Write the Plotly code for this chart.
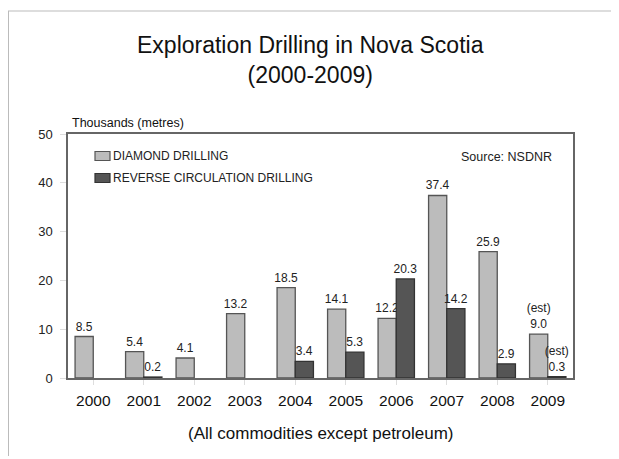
import plotly.graph_objects as go

years = ["2000", "2001", "2002", "2003", "2004", "2005", "2006", "2007", "2008", "2009"]
diamond = [8.5, 5.4, 4.1, 13.2, 18.5, 14.1, 12.2, 37.4, 25.9, 9.0]
reverse_circ = [None, 0.2, None, None, 3.4, 5.3, 20.3, 14.2, 2.9, 0.3]
estimated_years = ["2009"]
y_ticks = [0, 10, 20, 30, 40, 50]
series_names = ["DIAMOND DRILLING", "REVERSE CIRCULATION DRILLING"]
fills = ["#bcbcbc", "#555555"]
edges = ["#555555", "#333333"]


def labels(vals):
    out = []
    for y, v in zip(years, vals):
        if v is None:
            out.append("")
        elif y in estimated_years:
            out.append(f"(est)<br>{v:.1f}")
        else:
            out.append(f"{v:.1f}")
    return out


FONT = "Liberation Sans, Arial, Helvetica, sans-serif"

fig = go.Figure()
for name, vals, fc, ec in zip(series_names, [diamond, reverse_circ], fills, edges):
    fig.add_trace(go.Bar(
        name=name, x=years, y=vals,
        marker=dict(color=fc, line=dict(color=ec, width=1.3)),
        text=labels(vals), textposition="outside", constraintext="none",
        cliponaxis=False, textfont=dict(size=12, color="#222222", family=FONT),
    ))

# page offset (browser body margin)
OX, OY = 8, 8
W, H = 619 - OX, 459 - OY
L, R, T, B = 68 - OX, 46, 134 - OY, 81
pw, ph = W - L - R, H - T - B


def px(xp):
    return (xp - OX - L) / pw


def py(yp):
    return (H - B - (yp - OY)) / ph


legend_shapes = []
legend_annots = []
for i, (name, fc, ec) in enumerate(zip(series_names, fills, edges)):
    yc = 156 + 22 * i
    legend_shapes.append(dict(
        type="rect", xref="paper", yref="paper",
        x0=px(95), x1=px(110), y0=py(yc + 4.5), y1=py(yc - 4.5),
        fillcolor=fc, line=dict(color=ec, width=1.2)))
    legend_annots.append(dict(
        text=name, x=px(111), y=py(yc), xref="paper", yref="paper",
        xanchor="left", yanchor="middle", showarrow=False,
        font=dict(size=12, color="#222222")))

fig.update_layout(
    width=W, height=H,
    margin=dict(l=L, r=R, t=T, b=B),
    paper_bgcolor="white", plot_bgcolor="white",
    barmode="group", bargap=0.28, bargroupgap=0,
    font=dict(family=FONT, color="#222222"),
    showlegend=False,
    xaxis=dict(
        type="category", showline=True, linecolor="#666666", linewidth=1.5,
        mirror=True, ticks="outside", ticklen=5, tickcolor="#dddddd",
        tickfont=dict(size=15.5, color="#111111"), ticklabelstandoff=3,
        showgrid=False, zeroline=False,
    ),
    yaxis=dict(
        range=[0, 50], tickvals=y_ticks, showline=True, linecolor="#666666",
        linewidth=1.5, mirror=True, ticks="outside", ticklen=6,
        tickcolor="#dddddd", tickfont=dict(size=13, color="#222222"),
        ticklabelstandoff=5, showgrid=False, zeroline=False,
    ),
    annotations=[
        dict(text="Exploration Drilling in Nova Scotia<br>(2000-2009)",
             x=px(310), y=py(60), xref="paper", yref="paper",
             xanchor="center", yanchor="middle", showarrow=False,
             font=dict(size=23, color="#111111")),
        dict(text="Thousands (metres)", x=px(70), y=py(123), xref="paper",
             yref="paper", xanchor="left", yanchor="middle", showarrow=False,
             font=dict(size=12.5, color="#111111")),
        dict(text="Source: NSDNR", x=px(554), y=py(157), xref="paper",
             yref="paper", xanchor="right", yanchor="middle", showarrow=False,
             font=dict(size=12.5, color="#222222")),
        dict(text="(All commodities except petroleum)", x=px(320.5), y=py(433),
             xref="paper", yref="paper", xanchor="center", yanchor="middle",
             showarrow=False, font=dict(size=17, color="#111111")),
    ] + legend_annots,
    shapes=[
        dict(type="line", xref="paper", yref="paper", x0=px(8), x1=px(619),
             y0=py(11), y1=py(11), line=dict(color="#bbbbbb", width=1)),
        dict(type="line", xref="paper", yref="paper", x0=px(8.5), x1=px(8.5),
             y0=py(11), y1=py(456), line=dict(color="#bbbbbb", width=1)),
    ] + legend_shapes,
)

fig.write_html("out.html")
